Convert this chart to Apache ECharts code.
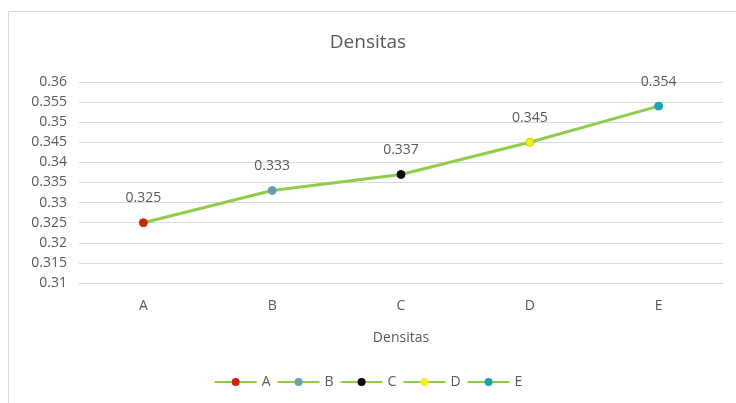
<!DOCTYPE html>
<html>
<head>
<meta charset="utf-8">
<script src="https://cdn.jsdelivr.net/npm/echarts@6/dist/echarts.min.js"></script>
<style>
  html, body { margin: 0; padding: 0; background: #fff; }
  #chart { width: 736px; height: 403px; }
</style>
</head>
<body>
<div id="chart"></div>
<script>
var categories = ['A', 'B', 'C', 'D', 'E'];
var values = [0.325, 0.333, 0.337, 0.345, 0.354];
var pointColors = ['#c9260b', '#6b9db2', '#0a0a0a', '#f2f21a', '#1aa2b6'];
var pointBorders = ['#c9260b', '#6b9db2', '#0a0a0a', '#c8c800', '#1aa2b6'];
var lineColor = '#8fcc4c';
var textColor = '#595959';
var font = 'Open Sans';

var mainData = values.map(function (v, i) {
    return {
        value: v,
        itemStyle: { color: pointColors[i], borderColor: pointBorders[i], borderWidth: 1 }
    };
});

// empty series only used so the legend shows one entry per point
var legendSeries = categories.map(function (c, i) {
    return {
        name: c,
        type: 'line',
        data: [],
        symbol: 'circle',
        symbolSize: 8,
        lineStyle: { color: lineColor, width: 3 },
        itemStyle: { color: pointColors[i], borderColor: pointBorders[i] }
    };
});

var option = {
    backgroundColor: '#fff',
    textStyle: { fontFamily: font },
    graphic: [{
        type: 'rect',
        shape: { x: 8.5, y: 11.5, width: 740, height: 400 },
        style: { fill: 'none', stroke: '#d9d9d9', lineWidth: 1 },
        silent: true
    }],
    title: {
        text: 'Densitas',
        left: 'center',
        top: 28,
        textStyle: { fontFamily: font, fontSize: 19, fontWeight: 'normal', color: textColor }
    },
    legend: {
        bottom: 9,
        left: 'center',
        data: categories,
        itemWidth: 42,
        itemHeight: 10,
        itemGap: 6,
        textStyle: { fontFamily: font, fontSize: 14, color: textColor }
    },
    grid: { left: 79, right: 13, top: 82, bottom: 120 },
    xAxis: {
        type: 'category',
        data: categories,
        boundaryGap: true,
        name: 'Densitas',
        nameLocation: 'middle',
        nameGap: 48,
        nameTextStyle: { fontFamily: font, fontSize: 14, color: textColor },
        axisLine: { lineStyle: { color: '#d9d9d9' } },
        axisTick: { show: false },
        axisLabel: { color: textColor, fontSize: 14, margin: 16 }
    },
    yAxis: {
        type: 'value',
        min: 0.31,
        max: 0.36,
        interval: 0.005,
        axisLine: { show: false },
        axisTick: { show: false },
        axisLabel: { color: textColor, fontSize: 14, margin: 12 },
        splitLine: { lineStyle: { color: '#d9d9d9' } }
    },
    series: [{
        name: 'Densitas',
        type: 'line',
        data: mainData,
        symbol: 'circle',
        symbolSize: 8,
        lineStyle: { color: lineColor, width: 3 },
        label: {
            show: true,
            position: 'top',
            distance: 13,
            color: textColor,
            fontSize: 14,
            fontFamily: font
        },
        z: 3
    }].concat(legendSeries)
};

var chart = echarts.init(document.getElementById('chart'));
chart.setOption(option);
</script>
</body>
</html>
